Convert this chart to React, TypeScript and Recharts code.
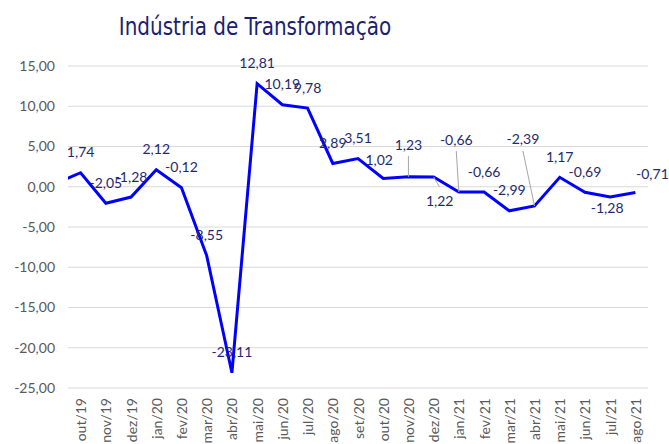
import React from 'react';
import { LineChart, Line, XAxis, YAxis, CartesianGrid, LabelList } from 'recharts';

const months = [
  'set/19', 'out/19', 'nov/19', 'dez/19', 'jan/20', 'fev/20', 'mar/20', 'abr/20',
  'mai/20', 'jun/20', 'jul/20', 'ago/20', 'set/20', 'out/20', 'nov/20', 'dez/20',
  'jan/21', 'fev/21', 'mar/21', 'abr/21', 'mai/21', 'jun/21', 'jul/21', 'ago/21',
];

const values = [
  0.4, 1.74, -2.05, -1.28, 2.12, -0.12, -8.55, -23.11,
  12.81, 10.19, 9.78, 2.89, 3.51, 1.02, 1.23, 1.22,
  -0.66, -0.66, -2.99, -2.39, 1.17, -0.69, -1.28, -0.71,
];

const yTicks = [-25, -20, -15, -10, -5, 0, 5, 10, 15];
const xTicks = months.map((_, i) => i).filter((i) => i > 0);

const data = months.map((m, i) => ({ i, m, v: values[i] }));

const fmt = (v: number) => v.toFixed(2).replace('.', ',');

const FONT = "Lato, 'Open Sans', sans-serif";

type LabelPos = { dx: number; dy: number; lead?: [number, number] };
const defaultPos: LabelPos = { dx: 0, dy: -21 };
const labelLayout: Record<string, LabelPos> = {
  'out/20': { dx: -4, dy: -19 },
  'nov/20': { dx: 0, dy: -32, lead: [0, -21] },
  'dez/20': { dx: 6, dy: 24, lead: [5.7, 10] },
  'jan/21': { dx: -2.6, dy: -53, lead: [-2.6, -41] },
  'abr/21': { dx: -11.6, dy: -67, lead: [-11.6, -55] },
  'jul/21': { dx: -3, dy: 10 },
  'ago/21': { dx: 17, dy: -19 },
};

function DataLabel(props: any) {
  const x = props.x ?? props.viewBox?.x;
  const y = props.y ?? props.viewBox?.y;
  const index = props.index;
  if (index == null || index === 0 || x == null || y == null) return null;
  const m = months[index];
  const o = labelLayout[m] || defaultPos;
  return (
    <g>
      {o.lead && (
        <line x1={x + o.lead[0]} y1={y + o.lead[1]} x2={x} y2={y} stroke="#A6A6A6" strokeWidth={1} />
      )}
      <text
        x={x + o.dx}
        y={y + o.dy}
        textAnchor="middle"
        dominantBaseline="central"
        fill="#1F2A6E"
        fontSize={14}
        fontFamily={FONT}
      >
        {fmt(values[index])}
      </text>
    </g>
  );
}

function XTick(props: any) {
  const { x, y, payload } = props;
  return (
    <text
      x={x}
      y={y}
      transform={`rotate(-90, ${x}, ${y})`}
      textAnchor="end"
      dominantBaseline="central"
      fill="#595959"
      fontSize={14}
      fontFamily={FONT}
    >
      {months[payload.value]}
    </text>
  );
}

export default function App() {
  return (
    <div style={{ position: 'absolute', left: 0, top: 0, width: 669, height: 444, background: '#fff', overflow: 'hidden' }}>
      <div
        style={{
          position: 'absolute',
          left: 0,
          top: 14,
          width: 510,
          textAlign: 'center',
          fontSize: 24,
          lineHeight: '26px',
          fontFamily: "'DejaVu Sans Condensed', 'DejaVu Sans', sans-serif",
          color: '#1A2270',
          transform: 'scaleX(0.925)',
          transformOrigin: '255px 0',
        }}
      >
        Indústria de Transformação
      </div>
      <LineChart width={669} height={444} data={data} margin={{ top: 66, right: 21, bottom: 0, left: 0 }}>
        <CartesianGrid vertical={false} stroke="#D9D9D9" strokeWidth={1} />
        <XAxis
          type="number"
          dataKey="i"
          domain={[0.5, 23.5]}
          allowDataOverflow
          ticks={xTicks}
          interval={0}
          tick={<XTick />}
          axisLine={false}
          tickLine={false}
          tickSize={0}
          tickMargin={10}
          height={56}
        />
        <YAxis
          type="number"
          domain={[-25, 15]}
          ticks={yTicks}
          interval={0}
          tickFormatter={fmt}
          axisLine={false}
          tickLine={false}
          tickSize={0}
          tickMargin={13}
          width={68}
          tick={{ fill: '#595959', fontSize: 14, fontFamily: FONT }}
        />
        <Line
          type="linear"
          dataKey="v"
          stroke="#0000FF"
          strokeWidth={3}
          dot={false}
          isAnimationActive={false}
        >
          <LabelList dataKey="v" content={<DataLabel />} />
        </Line>
      </LineChart>
    </div>
  );
}
